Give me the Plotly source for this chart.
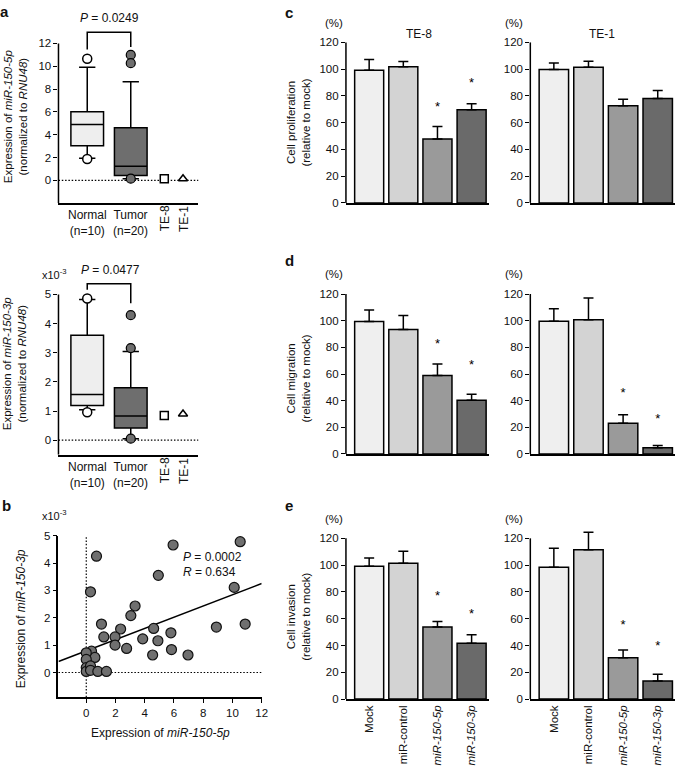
import plotly.graph_objects as go

W, H = 685, 776
FONT = "Liberation Sans, Arial, sans-serif"

# ---------------- data ----------------
# Panel a (top): miR-150-5p, normalized to RNU48
a5_pos = [0, 1]
a5_q1 = [3.02, 0.43]
a5_median = [4.89, 1.24]
a5_q3 = [6.01, 4.60]
a5_low = [1.93, 0.14]
a5_high = [9.90, 8.63]
a5_normal_out = [10.65, 1.87]
a5_tumor_out = [10.99, 10.27, 0.14]
a5_te8 = [0.14]
a5_te1 = [0.14]

# Panel a (bottom): miR-150-3p (x10^-3)
a3_q1 = [1.19, 0.42]
a3_median = [1.57, 0.83]
a3_q3 = [3.60, 1.80]
a3_low = [1.04, 0.05]
a3_high = [4.83, 3.04]
a3_normal_out = [4.86, 0.96]
a3_tumor_out = [4.29, 3.16, 0.05]
a3_te8 = [0.85]
a3_te1 = [0.90]

# Panel b: scatter miR-150-5p vs miR-150-3p
b_x = [0.70, 0.29, 5.94, 10.53, 4.93, 10.12, 10.87, 8.90, 3.34, 3.05,
       1.04, 2.35, 1.20, 1.97, 1.97, 2.76, 3.86, 4.61, 4.90, 5.79,
       5.83, 4.54, 6.96, 0.36, 0.59, 0.00, 0.00, 0.00, 0.00, 0.29,
       0.29, 0.79, 1.38]
b_y = [4.25, 2.95, 4.66, 4.78, 3.55, 3.11, 1.77, 1.66, 2.43, 2.08,
       1.77, 1.59, 1.30, 1.30, 1.00, 0.88, 1.23, 1.61, 1.16, 1.45,
       0.84, 0.64, 0.64, 0.78, 0.55, 0.72, 0.48, 0.18, 0.04, 0.24,
       0.08, 0.04, 0.04]
fit_x = [-1.9, 12.0]
fit_y = [0.40, 3.25]

# Panels c-e: bar charts
bar_groups = ["Mock", "miR-control", "miR-150-5p", "miR-150-3p"]
bar_ticktext = ["Mock", "miR-control", "<i>miR-150-5p</i>", "<i>miR-150-3p</i>"]
bar_colors = ["#efefef", "#d3d3d3", "#9a9a9a", "#6a6a6a"]

prolif_te8 = [99.2, 101.9, 47.8, 69.6]
prolif_te8_err = [8.1, 3.9, 9.3, 4.6]
prolif_te8_star = [None, None, 71.0, 89.4]
prolif_te1 = [99.7, 101.4, 72.7, 78.1]
prolif_te1_err = [4.9, 4.6, 4.9, 5.9]
prolif_te1_star = [None, None, None, None]

migr_te8 = [99.5, 93.5, 58.9, 40.4]
migr_te8_err = [8.5, 10.5, 8.6, 4.4]
migr_te8_star = [None, None, 82.0, 66.0]
migr_te1 = [99.7, 100.7, 23.0, 4.7]
migr_te1_err = [9.3, 16.3, 6.4, 1.7]
migr_te1_star = [None, None, 44.9, 25.8]

inv_te8 = [99.2, 101.4, 53.9, 41.6]
inv_te8_err = [6.1, 9.0, 4.1, 6.4]
inv_te8_star = [None, None, 76.4, 62.9]
inv_te1 = [98.4, 111.4, 30.9, 13.5]
inv_te1_err = [14.2, 13.2, 5.8, 5.1]
inv_te1_star = [None, None, 54.9, 39.0]

# ---------------- helpers ----------------
def xd(p0, p1):
    return [p0 / W, p1 / W]

def yd(top, bottom):
    return [1 - bottom / H, 1 - top / H]

fig = go.Figure()
annotations = []
shapes = []

def ann(text, px, py, size=12, angle=0, xanchor="center", yanchor="middle", **kw):
    annotations.append(dict(text=text, x=px / W, y=1 - py / H, xref="paper", yref="paper",
                            showarrow=False, textangle=angle, xanchor=xanchor, yanchor=yanchor,
                            font=dict(family=FONT, size=size, color="#111"), **kw))

tickfont = dict(family=FONT, size=11.5, color="#111")
LINE = dict(color="black", width=1.5)
DOT = dict(color="black", width=1.2, dash="1.5px,1.8px")

def yaxis_common(rng, tickvals, domain, anchor, showline=False):
    return dict(domain=domain, range=rng, anchor=anchor, tickvals=tickvals, ticks="outside",
                ticklen=4, tickwidth=1.2, tickcolor="black", showline=showline,
                linecolor="black", linewidth=1.5, showgrid=False, zeroline=False,
                tickfont=tickfont, fixedrange=True)

# ---------------- panel a (top & bottom) ----------------
a_xrange = [-0.66, 2.55]
a_xdom = xd(59, 200)
cell_pos = [1.77, 2.20]

def box_panel(idx, q1, med, q3, lo, hi, nout, tout, te8, te1):
    xa, ya = ("x" if idx == 1 else f"x{idx}"), ("y" if idx == 1 else f"y{idx}")
    fills = ["#eeeeee", "#6e6e6e"]
    for i in range(2):
        fig.add_trace(go.Box(x=[a5_pos[i]], q1=[q1[i]], median=[med[i]], q3=[q3[i]],
                             lowerfence=[lo[i]], upperfence=[hi[i]], width=0.75,
                             whiskerwidth=0.5, fillcolor=fills[i], line=dict(color="black", width=1.5),
                             boxpoints=False, xaxis=xa, yaxis=ya, hoverinfo="skip"))
    fig.add_trace(go.Scatter(x=[a5_pos[0]] * len(nout), y=nout, mode="markers",
                             marker=dict(symbol="circle", size=9, color="white",
                                         line=dict(color="black", width=1.5)),
                             xaxis=xa, yaxis=ya, cliponaxis=False))
    fig.add_trace(go.Scatter(x=[a5_pos[1]] * len(tout), y=tout, mode="markers",
                             marker=dict(symbol="circle", size=9, color="#6e6e6e",
                                         line=dict(color="black", width=1.2)),
                             xaxis=xa, yaxis=ya, cliponaxis=False))
    fig.add_trace(go.Scatter(x=[cell_pos[0]], y=te8, mode="markers",
                             marker=dict(symbol="square", size=8, color="white",
                                         line=dict(color="black", width=1.5)),
                             xaxis=xa, yaxis=ya, cliponaxis=False))
    fig.add_trace(go.Scatter(x=[cell_pos[1]], y=te1, mode="markers",
                             marker=dict(symbol="triangle-up", size=8, color="white",
                                         line=dict(color="black", width=1.5)),
                             xaxis=xa, yaxis=ya, cliponaxis=False))

box_panel(1, a5_q1, a5_median, a5_q3, a5_low, a5_high, a5_normal_out, a5_tumor_out, a5_te8, a5_te1)
box_panel(2, a3_q1, a3_median, a3_q3, a3_low, a3_high, a3_normal_out, a3_tumor_out, a3_te8, a3_te1)

layout = dict(width=W, height=H, margin=dict(l=0, r=0, t=0, b=0), showlegend=False,
              plot_bgcolor="white", paper_bgcolor="white", font=dict(family=FONT, color="#111"))

layout["xaxis"] = dict(domain=a_xdom, range=a_xrange, anchor="y", showline=True, linecolor="black",
                       linewidth=1.5, showticklabels=False, ticks="", showgrid=False, zeroline=False)
layout["yaxis"] = yaxis_common([-2, 13.2], [0, 2, 4, 6, 8, 10, 12], yd(24.1, 200.2), "x")
layout["xaxis2"] = dict(domain=a_xdom, range=a_xrange, anchor="y2", showline=True, linecolor="black",
                        linewidth=1.5, showticklabels=False, ticks="", showgrid=False, zeroline=False)
layout["yaxis2"] = yaxis_common([-0.5, 5.55], [0, 1, 2, 3, 4, 5], yd(276.7, 455.8), "x2")

# y-axis lines, dotted zero lines, brackets for panel a
for xa, ya, lo, top, br in [("x", "y", -2, 12, (12.98, 11.46, 11.68)),
                            ("x2", "y2", -0.5, 5, (5.37, 5.16, 4.70))]:
    shapes.append(dict(type="line", xref=f"{xa} domain", yref=ya, x0=0, x1=0, y0=lo, y1=top, line=LINE))
    shapes.append(dict(type="line", xref=f"{xa} domain", yref=ya, x0=0, x1=1, y0=0, y1=0,
                       line=DOT, layer="below"))
    ytop, yl, yr = br
    shapes.append(dict(type="path", xref=xa, yref=ya,
                       path=f"M {a5_pos[0]},{yl} L {a5_pos[0]},{ytop} L {a5_pos[1]},{ytop} L {a5_pos[1]},{yr}",
                       line=dict(color="black", width=1.5)))

ann("<b>a</b>", 5, 6, size=15)
ann("<i>P</i> = 0.0249", 110, 12)
ann("<i>P</i> = 0.0477", 111, 268)
ann("x10<sup>-3</sup>", 55, 272, size=11)
ann("Expression of <i>miR-150-5p</i><br>(normalized to <i>RNU48</i>)", 15, 112, size=11.5, angle=-90)
ann("Expression of <i>miR-150-3p</i><br>(normalized to <i>RNU48</i>)", 15, 363, size=11.5, angle=-90)
for yc in (220, 476):
    ann("Normal<br>(n=10)", 88, yc)
    ann("Tumor<br>(n=20)", 132, yc)
    ann("TE-8", 166, yc - 4, angle=-90)
    ann("TE-1", 185, yc - 4, angle=-90)

# ---------------- panel b ----------------
fig.add_trace(go.Scatter(x=fit_x, y=fit_y, mode="lines", line=dict(color="black", width=1.5),
                         xaxis="x3", yaxis="y3"))
fig.add_trace(go.Scatter(x=b_x, y=b_y, mode="markers",
                         marker=dict(size=10, color="#6f6f6f", line=dict(color="#111", width=1.2)),
                         xaxis="x3", yaxis="y3", cliponaxis=False))
layout["xaxis3"] = dict(domain=xd(59, 264), range=[-1.9, 12], anchor="y3", tickvals=[0, 2, 4, 6, 8, 10, 12],
                        ticks="outside", ticklen=4, tickwidth=1.2, tickcolor="black", showline=True,
                        linecolor="black", linewidth=1.5, showgrid=False, zeroline=False, tickfont=tickfont)
layout["yaxis3"] = yaxis_common([-0.9, 5.0], [0, 1, 2, 3, 4, 5], yd(538, 702), "x3", showline=True)
shapes.append(dict(type="line", xref="x3", yref="y3 domain", x0=0, x1=0, y0=0, y1=1,
                   line=DOT, layer="below"))
shapes.append(dict(type="line", xref="x3 domain", yref="y3", x0=0, x1=1, y0=0, y1=0,
                   line=DOT, layer="below"))
ann("<b>b</b>", 7, 507, size=15)
ann("x10<sup>-3</sup>", 55, 517, size=11)
ann("<i>P</i> = 0.0002", 183, 560, xanchor="left")
ann("<i>R</i> = 0.634", 183, 575, xanchor="left")
ann("Expression of <i>miR-150-3p</i>", 22, 622, angle=-90)
ann("Expression of <i>miR-150-5p</i>", 162, 738)

# ---------------- panels c, d, e ----------------
rows = [
    ("c", 200, 1.3583, "Cell proliferation<br>(relative to mock)", 118,
     [(prolif_te8, prolif_te8_err, prolif_te8_star), (prolif_te1, prolif_te1_err, prolif_te1_star)]),
    ("d", 455, 1.353, "Cell migration<br>(relative to mock)", 378,
     [(migr_te8, migr_te8_err, migr_te8_star), (migr_te1, migr_te1_err, migr_te1_star)]),
    ("e", 704, 1.361, "Cell invasion<br>(relative to mock)", 620,
     [(inv_te8, inv_te8_err, inv_te8_star), (inv_te1, inv_te1_err, inv_te1_star)]),
]
col_x = [(349, 493), (535, 681)]
label_y = {"c": 7, "d": 259, "e": 507}
idx = 4
for letter, zero_px, scale, ytitle, ymid, cols in rows:
    top_px = zero_px - 130 * scale
    for ci, (vals, errs, stars) in enumerate(cols):
        xa, ya = f"x{idx}", f"y{idx}"
        fig.add_trace(go.Bar(x=bar_groups, y=vals, marker=dict(color=bar_colors, line=LINE),
                             error_y=dict(type="data", array=errs, arrayminus=[0, 0, 0, 0], symmetric=False,
                                          color="black", thickness=1.5, width=5),
                             xaxis=xa, yaxis=ya, hoverinfo="skip"))
        sx = [g for g, s in zip(bar_groups, stars) if s is not None]
        sy = [s for s in stars if s is not None]
        if sx:
            fig.add_trace(go.Scatter(x=sx, y=sy, mode="text", text=["*"] * len(sx),
                                     textfont=dict(family=FONT, size=13, color="black"),
                                     textposition="middle center", xaxis=xa, yaxis=ya, cliponaxis=False))
        xax = dict(domain=xd(*col_x[ci]), range=[-0.68, 3.5], anchor=ya, type="category",
                   categoryorder="array", categoryarray=bar_groups, showline=True, linecolor="black",
                   linewidth=1.5, ticks="", showgrid=False, zeroline=False)
        if letter == "e":
            xax.update(tickvals=bar_groups, ticktext=bar_ticktext, tickangle=-90, tickfont=tickfont)
        else:
            xax.update(showticklabels=False)
        layout[f"xaxis{idx}"] = xax
        layout[f"yaxis{idx}"] = yaxis_common([0, 130], [0, 20, 40, 60, 80, 100, 120],
                                             yd(top_px, zero_px), xa)
        shapes.append(dict(type="line", xref=f"{xa} domain", yref=ya, x0=0, x1=0, y0=0, y1=120, line=LINE))
        idx += 1
    pct_y = zero_px - 120 * scale - 20
    ann("(%)", 337, pct_y, size=11.5)
    ann("(%)", 519, pct_y, size=11.5)
    ann(f"<b>{letter}</b>", 292, label_y[letter], size=15)
    ann(ytitle, 301, ymid, size=11.5, angle=-90)

ann("TE-8", 423, 28)
ann("TE-1", 607, 28)

layout["bargap"] = 0.15
layout["annotations"] = annotations
layout["shapes"] = shapes
fig.update_layout(**layout)
fig.write_html("out.html", config={"displayModeBar": False},
               post_script="document.body.style.margin='0px';")
